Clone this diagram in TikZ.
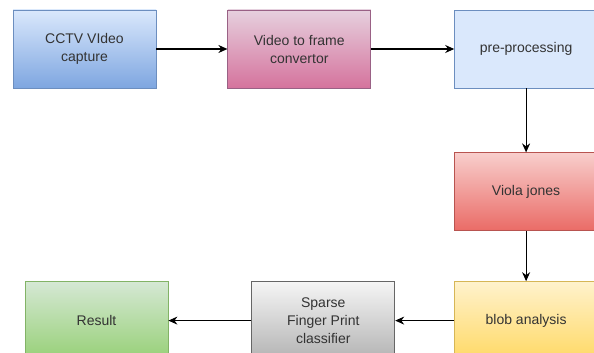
\documentclass[tikz,border=0pt]{standalone}
\usepackage{fontspec}
\setmainfont{Liberation Sans}
\usetikzlibrary{positioning,arrows.meta}
\definecolor{txtgray}{HTML}{333333}
\definecolor{blueTop}{HTML}{DAE8FC}
\definecolor{blueBot}{HTML}{7EA6E0}
\definecolor{blueLine}{HTML}{6C8EBF}
\definecolor{pinkTop}{HTML}{E6D0DE}
\definecolor{pinkBot}{HTML}{D5739D}
\definecolor{pinkLine}{HTML}{996185}
\definecolor{redTop}{HTML}{F8CECC}
\definecolor{redBot}{HTML}{EA6B66}
\definecolor{redLine}{HTML}{B85450}
\definecolor{yellowTop}{HTML}{FFF2CC}
\definecolor{yellowBot}{HTML}{FFD966}
\definecolor{yellowLine}{HTML}{D6B656}
\definecolor{grayTop}{HTML}{F5F5F5}
\definecolor{grayBot}{HTML}{B3B3B3}
\definecolor{grayLine}{HTML}{666666}
\definecolor{greenTop}{HTML}{D5E8D4}
\definecolor{greenBot}{HTML}{97D077}
\definecolor{greenLine}{HTML}{82B366}

\begin{document}
\begin{tikzpicture}[
  every node/.style={font=\fontsize{14}{18}\selectfont, text=txtgray},
  box/.style={rectangle, thick, align=center, minimum width=143pt, minimum height=78pt},
  flow/.style={-{Stealth[length=9pt,width=8pt]}, line width=1.2pt}
]
\useasboundingbox (0,0) rectangle (594pt,-353pt);
\node[box, draw=blueLine, top color=blueTop, bottom color=blueBot] (cctv) at (84.5pt,-49pt) {CCTV VIdeo\\capture};
\node[box, right=71pt of cctv, draw=pinkLine, top color=pinkTop, bottom color=pinkBot] (frame) {Video to frame\\convertor};
\node[box, right=83pt of frame, draw=blueLine, fill=blueTop] (pre) {pre-processing};
\node[box, below=64pt of pre, draw=redLine, top color=redTop, bottom color=redBot] (viola) {Viola jones};
\node[box, below=50pt of viola, draw=yellowLine, top color=yellowTop, bottom color=yellowBot] (blob) {blob analysis};
\node[box, left=59pt of blob, draw=grayLine, top color=grayTop, bottom color=grayBot] (sparse) {Sparse\\Finger Print\\classifier};
\node[box, left=83pt of sparse, draw=greenLine, top color=greenTop, bottom color=greenBot] (result) {Result};
\draw[flow] (cctv) -- (frame);
\draw[flow] (frame) -- (pre);
\draw[flow] (pre) -- (viola);
\draw[flow] (viola) -- (blob);
\draw[flow] (blob) -- (sparse);
\draw[flow] (sparse) -- (result);
\end{tikzpicture}
\end{document}
